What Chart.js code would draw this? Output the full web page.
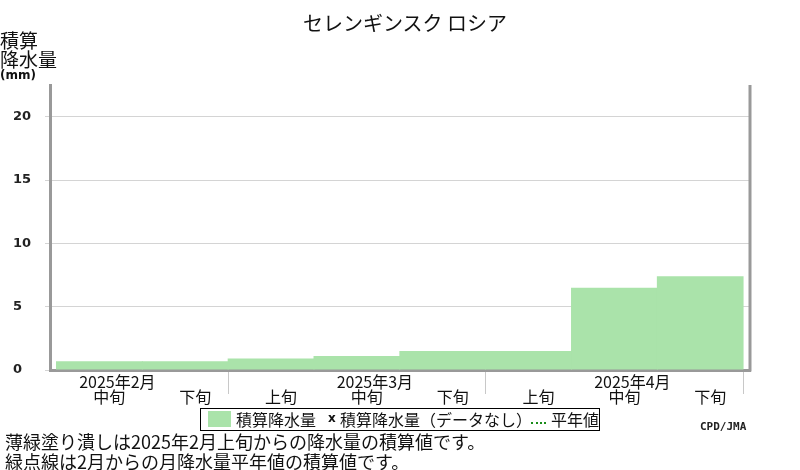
<!DOCTYPE html>
<html lang="ja">
<head>
<meta charset="utf-8">
<title>セレンギンスク ロシア</title>
<script src="https://cdn.jsdelivr.net/npm/chart.js@4.4.1/dist/chart.umd.min.js"></script>
<style>
  body { margin: 0; background: #fff; }
  #wrap { position: relative; width: 800px; height: 470px; font-family: "Noto Sans CJK JP", sans-serif; color: #111; }
  #chart { position: absolute; left: 0; top: 0; }
  .t { position: absolute; white-space: nowrap; line-height: 1; }
</style>
</head>
<body>
<div id="wrap">
  <canvas id="chart" width="800" height="470"></canvas>

  <!-- title and y axis title -->
  <div class="t" style="left:0; width:810px; text-align:center; top:13px; font-size:20px;">セレンギンスク ロシア</div>
  <div class="t" style="left:0; top:30px; font-size:19px;">積算</div>
  <div class="t" style="left:0; top:49px; font-size:19px;">降水量</div>
  <div class="t" style="left:0; top:69px; font-size:12px; font-weight:bold; font-family:'DejaVu Sans';">(mm)</div>

  <!-- legend -->
  <div class="t" style="left:200px; top:408px; width:398px; height:21px; border:1.5px solid #000;"></div>
  <div class="t" style="left:208px; top:411px; width:23px; height:16px; background:#aae3aa;"></div>
  <div class="t" style="left:236px; top:411px; font-size:16px;">積算降水量</div>
  <div class="t" style="left:328px; top:412px; font-size:12px; font-weight:bold; font-family:'DejaVu Sans';">x</div>
  <div class="t" style="left:340px; top:411px; font-size:16px;">積算降水量（データなし）</div>
  <div class="t" style="left:531px; top:422px; width:15px; border-top:2px dotted #1a8c1a;"></div>
  <div class="t" style="left:551px; top:411px; font-size:16px;">平年値</div>

  <div class="t" style="left:700px; top:421px; font-size:11px; font-weight:bold; font-family:'DejaVu Sans Mono'; color:#222;">CPD/JMA</div>

  <!-- notes -->
  <div class="t" style="left:5px; top:432px; font-size:18px;">薄緑塗り潰しは2025年2月上旬からの降水量の積算値です。</div>
  <div class="t" style="left:5px; top:452px; font-size:18px;">緑点線は2月からの月降水量平年値の積算値です。</div>
</div>

<script>
// dekads shown on the x axis (2025 Feb mid .. Apr late)
const dekads = ['中旬', '下旬', '上旬', '中旬', '下旬', '上旬', '中旬', '下旬'];
const monthLabels = ['2025年2月', '', '', '2025年3月', '', '', '2025年4月', ''];
// accumulated precipitation (mm)
const accumPrecip = [0.7, 0.7, 0.9, 1.1, 1.5, 1.5, 6.5, 7.4];
const yTicks = [0, 5, 10, 15, 20];

// month separators sit at the start of each 上旬 and at the end
const separators = dekads.map((d, i) => d === '上旬' ? i : null)
  .filter(v => v !== null)
  .concat([dekads.length]);

// x labels (two rows) and the right hand frame line
const extrasPlugin = {
  id: 'extras',
  afterDraw(chart) {
    const { ctx, chartArea, scales: { x } } = chart;
    ctx.save();
    ctx.font = '16px "Noto Sans CJK JP"';
    ctx.fillStyle = '#111';
    ctx.textAlign = 'center';
    ctx.textBaseline = 'middle';
    dekads.forEach((d, i) => {
      const cx = x.getPixelForValue(i + 0.5);
      ctx.fillText(d, cx + 10, 397);
      if (monthLabels[i]) ctx.fillText(monthLabels[i], cx + 18, 382);
    });
    ctx.strokeStyle = '#999';
    ctx.lineWidth = 3;
    ctx.beginPath();
    ctx.moveTo(chartArea.right, chartArea.top);
    ctx.lineTo(chartArea.right, chartArea.bottom + 1.5);
    ctx.stroke();
    ctx.restore();
  }
};

new Chart(document.getElementById('chart'), {
  type: 'bar',
  data: {
    datasets: [{
      label: '積算降水量',
      data: accumPrecip.map((v, i) => ({ x: i + 0.5, y: v })),
      backgroundColor: '#aae3aa',
      borderWidth: 0,
      barPercentage: 1.01,
      categoryPercentage: 1
    }]
  },
  options: {
    responsive: false,
    animation: false,
    events: [],
    layout: { padding: { left: 13, right: 50, top: 85, bottom: 100 } },
    plugins: { legend: { display: false }, title: { display: false }, tooltip: { enabled: false } },
    scales: {
      x: {
        type: 'linear',
        offset: false,
        min: -0.075,
        max: 8.08,
        afterBuildTicks: s => { s.ticks = dekads.map((d, i) => ({ value: i })).concat([{ value: dekads.length }]); },
        afterFit: s => { s.height = 0; s.paddingLeft = 0; s.paddingRight = 0; },
        ticks: { display: false },
        grid: {
          offset: false,
          drawOnChartArea: false,
          drawTicks: true,
          tickLength: 24,
          color: c => separators.includes(c.tick && c.tick.value) ? '#c8c8c8' : 'rgba(0,0,0,0)'
        },
        border: { color: '#999', width: 3 }
      },
      y: {
        min: 0,
        max: 22.5,
        afterBuildTicks: s => { s.ticks = yTicks.map(v => ({ value: v })); },
        afterFit: s => { s.width = 37; s.paddingTop = 0; s.paddingBottom = 0; },
        grid: { color: '#d4d4d4', tickColor: '#d4d4d4', tickLength: 5 },
        border: { color: '#999', width: 3 },
        ticks: {
          crossAlign: 'far',
          color: '#222',
          font: { family: 'DejaVu Sans', weight: 'bold', size: 13 }
        }
      }
    }
  },
  plugins: [extrasPlugin]
});
</script>
</body>
</html>
